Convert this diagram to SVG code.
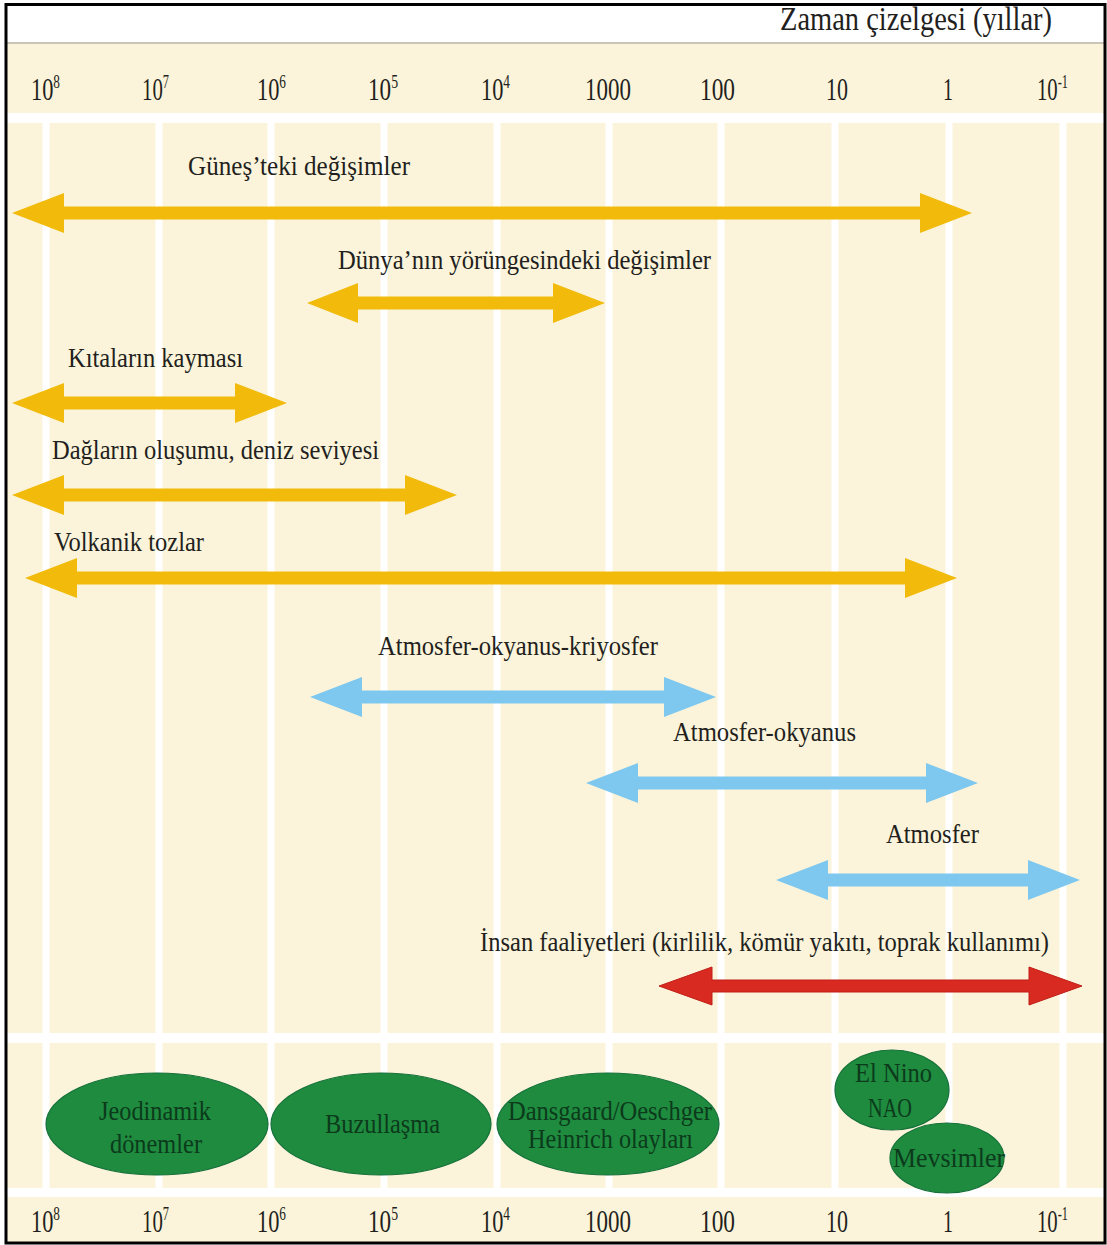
<svg xmlns="http://www.w3.org/2000/svg" width="1107" height="1245" viewBox="0 0 1107 1245">
<style>
.bg{fill:#FBF4DA}
.grid{stroke:#FFFFFF;stroke-width:7}
.band{fill:#FFFFFF}
.t{font-family:"Liberation Serif","Times New Roman",serif;fill:#231F20}
.ax{font-size:32px}
.sup{font-size:19px}
.lbl{font-size:28px}
.yel{fill:#F2BB0C}
.blu{fill:#7EC7EE}
.red{fill:#D82A20;stroke:#C01F18;stroke-width:1}
.ell{fill:#1E8B3F;stroke:#15703A;stroke-width:1.2}
.et{font-family:"Liberation Serif","Times New Roman",serif;fill:#0C3A1B;font-size:28px}
</style>
<rect x="0" y="0" width="1107" height="1245" fill="#FFFFFF"/>
<rect class="bg" x="6" y="43" width="1099" height="1200"/>
<line x1="6" y1="43" x2="1105" y2="43" stroke="#C9C5B8" stroke-width="2"/>
<g id="grid">
<line class="grid" x1="46" y1="113" x2="46" y2="1197"/>
<line class="grid" x1="159" y1="113" x2="159" y2="1197"/>
<line class="grid" x1="271" y1="113" x2="271" y2="1197"/>
<line class="grid" x1="384" y1="113" x2="384" y2="1197"/>
<line class="grid" x1="497" y1="113" x2="497" y2="1197"/>
<line class="grid" x1="609" y1="113" x2="609" y2="1197"/>
<line class="grid" x1="721" y1="113" x2="721" y2="1197"/>
<line class="grid" x1="835" y1="113" x2="835" y2="1197"/>
<line class="grid" x1="949" y1="113" x2="949" y2="1197"/>
<line class="grid" x1="1063" y1="113" x2="1063" y2="1197"/>
<rect class="band" x="6" y="113" width="1099" height="10"/>
<rect class="band" x="6" y="1033" width="1099" height="10"/>
<rect class="band" x="6" y="1188" width="1099" height="9"/>
</g>
<g id="title">
<text class="t" x="780" y="30" font-size="34" textLength="272" lengthAdjust="spacingAndGlyphs">Zaman çizelgesi (yıllar)</text>
</g>
<g id="axis-top">
<text class="t ax" x="31" y="100" textLength="29" lengthAdjust="spacingAndGlyphs">10<tspan class="sup" dy="-12">8</tspan></text>
<text class="t ax" x="142" y="100" textLength="27" lengthAdjust="spacingAndGlyphs">10<tspan class="sup" dy="-12">7</tspan></text>
<text class="t ax" x="257" y="100" textLength="29" lengthAdjust="spacingAndGlyphs">10<tspan class="sup" dy="-12">6</tspan></text>
<text class="t ax" x="368" y="100" textLength="30" lengthAdjust="spacingAndGlyphs">10<tspan class="sup" dy="-12">5</tspan></text>
<text class="t ax" x="481" y="100" textLength="29" lengthAdjust="spacingAndGlyphs">10<tspan class="sup" dy="-12">4</tspan></text>
<text class="t ax" x="585" y="100" textLength="46" lengthAdjust="spacingAndGlyphs">1000</text>
<text class="t ax" x="700" y="100" textLength="35" lengthAdjust="spacingAndGlyphs">100</text>
<text class="t ax" x="826" y="100" textLength="22" lengthAdjust="spacingAndGlyphs">10</text>
<text class="t ax" x="943" y="100" textLength="10" lengthAdjust="spacingAndGlyphs">1</text>
<text class="t ax" x="1037" y="100" textLength="31" lengthAdjust="spacingAndGlyphs">10<tspan class="sup" dy="-12">-1</tspan></text>
</g>
<g id="axis-bottom">
<text class="t ax" x="31" y="1232" textLength="29" lengthAdjust="spacingAndGlyphs">10<tspan class="sup" dy="-12">8</tspan></text>
<text class="t ax" x="142" y="1232" textLength="27" lengthAdjust="spacingAndGlyphs">10<tspan class="sup" dy="-12">7</tspan></text>
<text class="t ax" x="257" y="1232" textLength="29" lengthAdjust="spacingAndGlyphs">10<tspan class="sup" dy="-12">6</tspan></text>
<text class="t ax" x="368" y="1232" textLength="30" lengthAdjust="spacingAndGlyphs">10<tspan class="sup" dy="-12">5</tspan></text>
<text class="t ax" x="481" y="1232" textLength="29" lengthAdjust="spacingAndGlyphs">10<tspan class="sup" dy="-12">4</tspan></text>
<text class="t ax" x="585" y="1232" textLength="46" lengthAdjust="spacingAndGlyphs">1000</text>
<text class="t ax" x="700" y="1232" textLength="35" lengthAdjust="spacingAndGlyphs">100</text>
<text class="t ax" x="826" y="1232" textLength="22" lengthAdjust="spacingAndGlyphs">10</text>
<text class="t ax" x="943" y="1232" textLength="10" lengthAdjust="spacingAndGlyphs">1</text>
<text class="t ax" x="1037" y="1232" textLength="31" lengthAdjust="spacingAndGlyphs">10<tspan class="sup" dy="-12">-1</tspan></text>
</g>
<g id="connectors">
<g id="gunes">
<polygon class="yel" points="12,213 64,193 64,206.5 920,206.5 920,193 972,213 920,233 920,219.5 64,219.5 64,233"/>
<text class="t lbl" x="188" y="175" textLength="222" lengthAdjust="spacingAndGlyphs">Güneş’teki değişimler</text>
</g>
<g id="dunya">
<polygon class="yel" points="307,303 358,283 358,296.5 553,296.5 553,283 605,303 553,323 553,309.5 358,309.5 358,323"/>
<text class="t lbl" x="338" y="269" textLength="373" lengthAdjust="spacingAndGlyphs">Dünya’nın yörüngesindeki değişimler</text>
</g>
<g id="kitalar">
<polygon class="yel" points="12,403 64,383 64,396.5 235,396.5 235,383 287,403 235,423 235,409.5 64,409.5 64,423"/>
<text class="t lbl" x="68" y="367" textLength="175" lengthAdjust="spacingAndGlyphs">Kıtaların kayması</text>
</g>
<g id="daglar">
<polygon class="yel" points="12,495 64,475 64,488.5 405,488.5 405,475 457,495 405,515 405,501.5 64,501.5 64,515"/>
<text class="t lbl" x="52" y="459" textLength="327" lengthAdjust="spacingAndGlyphs">Dağların oluşumu, deniz seviyesi</text>
</g>
<g id="volkanik">
<polygon class="yel" points="25,578 77,558 77,571.5 905,571.5 905,558 957,578 905,598 905,584.5 77,584.5 77,598"/>
<text class="t lbl" x="54" y="551" textLength="150" lengthAdjust="spacingAndGlyphs">Volkanik tozlar</text>
</g>
<g id="aok">
<polygon class="blu" points="310,697 362,677 362,690.5 664,690.5 664,677 716,697 664,717 664,703.5 362,703.5 362,717"/>
<text class="t lbl" x="378" y="655" textLength="280" lengthAdjust="spacingAndGlyphs">Atmosfer-okyanus-kriyosfer</text>
</g>
<g id="ao">
<polygon class="blu" points="586,783 638,763 638,776.5 926,776.5 926,763 978,783 926,803 926,789.5 638,789.5 638,803"/>
<text class="t lbl" x="673" y="741" textLength="183" lengthAdjust="spacingAndGlyphs">Atmosfer-okyanus</text>
</g>
<g id="atmosfer">
<polygon class="blu" points="776,880 828,860 828,873.5 1028,873.5 1028,860 1080,880 1028,900 1028,886.5 828,886.5 828,900"/>
<text class="t lbl" x="886" y="843" textLength="93" lengthAdjust="spacingAndGlyphs">Atmosfer</text>
</g>
<g id="insan">
<polygon class="red" points="659,986 712,967 712,980 1029,980 1029,967 1082,986 1029,1005 1029,992 712,992 712,1005"/>
<text class="t lbl" x="480" y="951" textLength="569" lengthAdjust="spacingAndGlyphs">İnsan faaliyetleri (kirlilik, kömür yakıtı, toprak kullanımı)</text>
</g>
</g>
<g id="jeodinamik">
<ellipse class="ell" cx="157" cy="1124" rx="111" ry="51"/>
<text class="et" x="99" y="1120" textLength="112" lengthAdjust="spacingAndGlyphs">Jeodinamik</text>
<text class="et" x="110" y="1153" textLength="92" lengthAdjust="spacingAndGlyphs">dönemler</text>
</g>
<g id="buzullasma">
<ellipse class="ell" cx="381" cy="1124" rx="110" ry="51"/>
<text class="et" x="325" y="1133" textLength="115" lengthAdjust="spacingAndGlyphs">Buzullaşma</text>
</g>
<g id="dansgaard">
<ellipse class="ell" cx="608" cy="1124" rx="111" ry="51"/>
<text class="et" x="508" y="1120" textLength="204" lengthAdjust="spacingAndGlyphs">Dansgaard/Oeschger</text>
<text class="et" x="528" y="1148" textLength="165" lengthAdjust="spacingAndGlyphs">Heinrich olayları</text>
</g>
<g id="elnino">
<ellipse class="ell" cx="892" cy="1090" rx="57" ry="40"/>
<text class="et" x="855" y="1082" textLength="77" lengthAdjust="spacingAndGlyphs">El Nino</text>
<text class="et" x="868" y="1117" textLength="44" lengthAdjust="spacingAndGlyphs">NAO</text>
</g>
<g id="mevsimler">
<ellipse class="ell" cx="947" cy="1158" rx="57" ry="35"/>
<text class="et" x="893" y="1167" textLength="112" lengthAdjust="spacingAndGlyphs">Mevsimler</text>
</g>
<rect x="6" y="4.5" width="1099" height="1238.5" fill="none" stroke="#000000" stroke-width="3"/>
</svg>
